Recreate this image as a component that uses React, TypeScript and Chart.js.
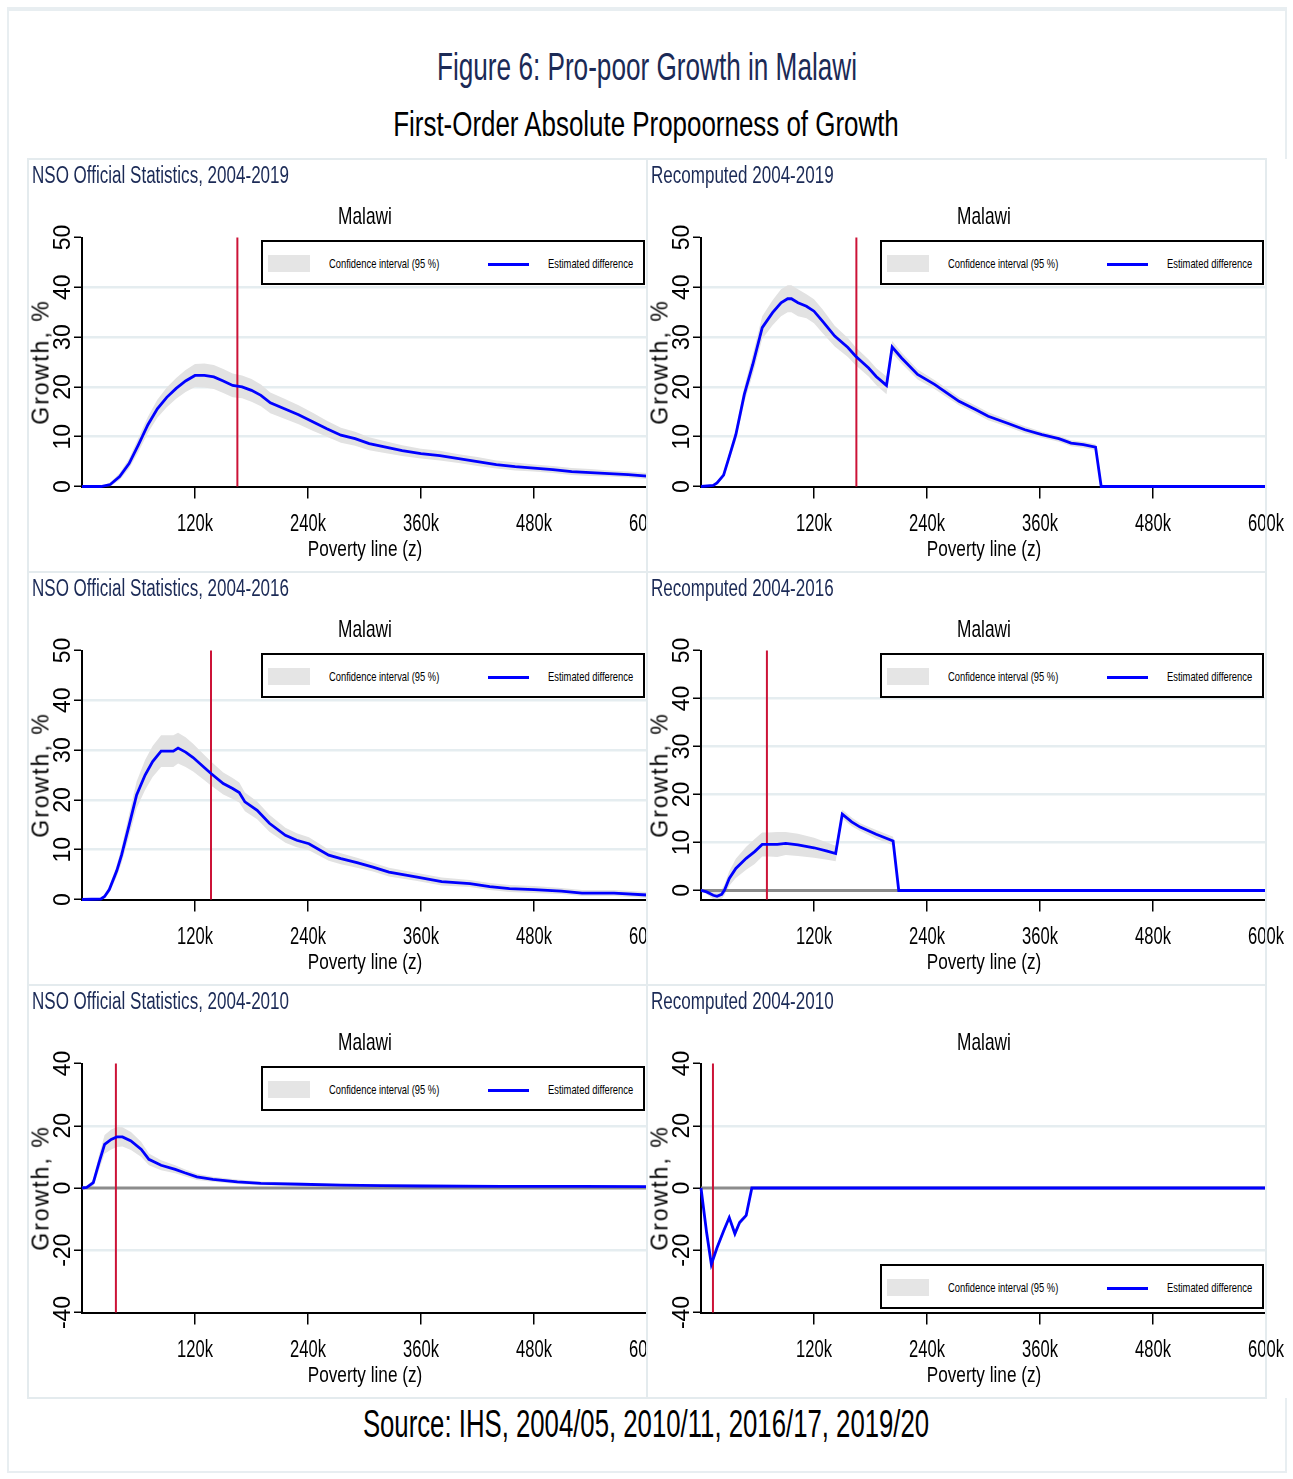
import React, { useEffect, useRef } from 'react';
import { Chart, registerables } from 'chart.js';

Chart.register(...registerables);

// ---- Data: poverty line z (thousand kwacha), growth estimate and 95% CI bounds (%) ----

// NSO Official Statistics, 2004-2019
const NSO19_Z = [0, 20, 30, 40, 50, 60, 70, 80, 90, 100, 110, 120, 130, 140, 150, 160, 170, 180, 190, 200, 215, 230, 245, 260, 275, 290, 305, 320, 340, 360, 380, 400, 420, 440, 460, 480, 500, 520, 540, 560, 580, 600];
const NSO19_EST = [0, 0, 0.4, 2.0, 4.6, 8.4, 12.4, 15.6, 17.9, 19.7, 21.2, 22.3, 22.3, 22.0, 21.2, 20.3, 20.0, 19.3, 18.3, 16.8, 15.6, 14.4, 13.0, 11.6, 10.3, 9.6, 8.6, 8.0, 7.2, 6.6, 6.2, 5.6, 5.0, 4.4, 4.0, 3.7, 3.4, 3.0, 2.8, 2.6, 2.4, 2.1];
const NSO19_HI = [0, 0.1, 0.8, 2.7, 5.6, 9.8, 14.0, 17.4, 19.9, 21.8, 23.4, 24.6, 24.7, 24.4, 23.6, 22.7, 22.3, 21.6, 20.5, 18.9, 17.6, 16.3, 14.8, 13.2, 11.8, 11.0, 9.9, 9.2, 8.3, 7.6, 7.2, 6.5, 5.9, 5.2, 4.8, 4.4, 4.1, 3.7, 3.5, 3.2, 3.0, 2.7];
const NSO19_LO = [0, -0.1, 0.0, 1.3, 3.6, 7.0, 10.8, 13.8, 15.9, 17.6, 19.0, 20.0, 19.9, 19.6, 18.8, 17.9, 17.7, 17.0, 16.1, 14.7, 13.6, 12.5, 11.2, 10.0, 8.8, 8.2, 7.3, 6.8, 6.1, 5.6, 5.2, 4.7, 4.1, 3.6, 3.2, 3.0, 2.7, 2.3, 2.1, 2.0, 1.8, 1.5];

// Recomputed 2004-2019
const REC19_Z = [0, 13, 17, 24, 30, 37, 46, 55, 65, 76, 85, 92, 96, 103, 112, 120, 129, 142, 156, 164, 178, 186, 197, 203, 213, 230, 248, 261, 274, 292, 305, 327, 344, 362, 380, 393, 406, 419, 425, 480, 540, 600];
const REC19_EST = [0, 0.2, 0.7, 2.3, 6.0, 10.4, 18.5, 24.5, 31.9, 34.9, 36.9, 37.7, 37.7, 36.9, 36.2, 35.2, 33.2, 30.2, 27.9, 26.2, 23.8, 22.1, 20.3, 28.0, 25.8, 22.5, 20.5, 18.8, 17.1, 15.4, 14.1, 12.6, 11.4, 10.4, 9.6, 8.7, 8.4, 7.9, 0, 0, 0, 0];
const REC19_HI = [0, 0.3, 1.0, 2.7, 6.8, 11.6, 20.1, 26.5, 34.2, 37.4, 39.6, 40.4, 40.4, 39.6, 38.6, 37.6, 35.6, 32.3, 29.8, 28.0, 25.5, 23.8, 22.1, 29.2, 26.9, 23.5, 21.4, 19.7, 17.9, 16.2, 14.9, 13.3, 12.1, 11.0, 10.2, 9.3, 9.0, 8.5, 0, 0, 0, 0];
const REC19_LO = [0, 0.1, 0.4, 1.9, 5.2, 9.2, 16.9, 22.5, 29.6, 32.4, 34.2, 35.0, 35.0, 34.2, 33.8, 32.8, 30.8, 28.1, 26.0, 24.4, 22.1, 20.4, 18.5, 26.8, 24.7, 21.5, 19.6, 17.9, 16.3, 14.6, 13.3, 11.9, 10.7, 9.8, 9.0, 8.1, 7.8, 7.3, 0, 0, 0, 0];

// NSO Official Statistics, 2004-2016
const NSO16_Z = [0, 20, 24, 29, 37, 42, 50, 58, 67, 75, 84, 92, 97, 102, 110, 118, 131, 137, 150, 160, 167, 173, 186, 199, 216, 228, 241, 252, 262, 275, 292, 309, 326, 356, 382, 412, 433, 454, 480, 509, 531, 565, 600];
const NSO16_EST = [0, 0.1, 0.6, 2.0, 5.8, 8.9, 14.9, 21.0, 25.0, 27.7, 29.8, 29.8, 29.8, 30.4, 29.6, 28.5, 26.3, 25.3, 23.3, 22.3, 21.5, 19.6, 17.9, 15.3, 12.9, 11.9, 11.2, 10.0, 8.9, 8.2, 7.4, 6.5, 5.5, 4.5, 3.6, 3.2, 2.6, 2.2, 2.0, 1.7, 1.3, 1.3, 0.9];
const NSO16_HI = [0, 0.2, 0.9, 2.6, 7.0, 10.5, 17.1, 23.7, 28.0, 30.8, 33.0, 33.0, 33.0, 33.5, 32.6, 31.3, 28.8, 27.7, 25.5, 24.4, 23.5, 21.5, 19.7, 17.0, 14.4, 13.3, 12.5, 11.2, 10.0, 9.3, 8.4, 7.4, 6.4, 5.3, 4.4, 3.9, 3.3, 2.9, 2.7, 2.3, 1.9, 1.9, 1.5];
const NSO16_LO = [0, 0.0, 0.3, 1.4, 4.6, 7.3, 12.7, 18.3, 22.0, 24.6, 26.6, 26.6, 26.6, 27.3, 26.6, 25.7, 23.8, 22.9, 21.1, 20.2, 19.5, 17.7, 16.1, 13.6, 11.4, 10.5, 9.9, 8.8, 7.8, 7.1, 6.4, 5.6, 4.6, 3.7, 2.8, 2.5, 1.9, 1.5, 1.3, 1.1, 0.7, 0.7, 0.3];

// Recomputed 2004-2016
const REC16_Z = [0, 6, 13, 17, 22, 25, 30, 37, 48, 57, 65, 72, 81, 90, 103, 120, 134, 143, 150, 160, 169, 186, 204, 210, 300, 400, 500, 600];
const REC16_EST = [0, -0.3, -1.0, -1.2, -0.8, 0.1, 2.5, 4.6, 6.7, 8.1, 9.6, 9.6, 9.6, 9.8, 9.5, 8.9, 8.2, 7.7, 15.9, 14.3, 13.2, 11.7, 10.3, 0, 0, 0, 0, 0];
const REC16_HI = [0, 0.3, -0.2, -0.3, 0.2, 1.3, 4.0, 6.6, 9.1, 10.7, 12.1, 12.1, 12.2, 12.2, 11.8, 11.0, 10.0, 9.3, 16.8, 15.2, 14.0, 12.6, 11.2, 0, 0, 0, 0, 0];
const REC16_LO = [0, -0.8, -1.8, -1.9, -1.7, -1.0, 1.0, 2.6, 4.3, 5.5, 7.1, 7.1, 7.0, 7.4, 7.2, 6.8, 6.4, 6.1, 15.0, 13.4, 12.4, 10.8, 9.4, 0, 0, 0, 0, 0];

// NSO Official Statistics, 2004-2010
const NSO10_Z = [0, 5, 12, 18, 24, 31, 37, 43, 52, 63, 71, 84, 99, 109, 122, 139, 165, 190, 233, 275, 318, 360, 446, 531, 600];
const NSO10_EST = [0, 0.2, 1.7, 8.1, 14.0, 15.6, 16.4, 16.4, 15.1, 12.4, 9.2, 7.3, 6.0, 4.9, 3.6, 2.8, 2.0, 1.5, 1.2, 0.9, 0.75, 0.65, 0.55, 0.5, 0.45];
const NSO10_HI = [0, 0.5, 2.8, 10.5, 17.0, 18.8, 19.6, 19.5, 18.0, 14.8, 11.1, 8.9, 7.3, 6.0, 4.6, 3.6, 2.7, 2.1, 1.7, 1.4, 1.2, 1.1, 0.9, 0.9, 0.8];
const NSO10_LO = [0, -0.1, 0.6, 5.7, 11.0, 12.4, 13.2, 13.3, 12.2, 10.0, 7.3, 5.7, 4.7, 3.8, 2.6, 2.0, 1.3, 0.9, 0.7, 0.4, 0.3, 0.2, 0.2, 0.1, 0.1];

// Recomputed 2004-2010
const REC10_Z = [0, 6, 11, 17, 24, 30, 36, 41, 48, 54, 100, 200, 300, 400, 500, 600];
const REC10_EST = [0, -14.4, -24.5, -19.2, -13.8, -9.5, -14.7, -11.1, -8.8, 0, 0, 0, 0, 0, 0, 0];
const REC10_HI = [0, -13.6, -23.2, -18.2, -12.8, -8.5, -13.6, -10.2, -8.0, 0, 0, 0, 0, 0, 0, 0];
const REC10_LO = [0, -15.2, -25.8, -20.2, -14.8, -10.5, -15.8, -12.0, -9.6, 0, 0, 0, 0, 0, 0, 0];

// Axes
const X_TICKS = [120, 240, 360, 480, 600];
const X_TICK_LABELS = ['120k', '240k', '360k', '480k', '600k'];
const Y_TICKS_POS = [0, 10, 20, 30, 40, 50];
const Y_TICKS_SYM = [-40, -20, 0, 20, 40];

// Poverty line marked in each panel (thousand kwacha)
const POVERTY_LINES = [165, 165, 137, 70, 36, 12.7];

const PANEL_TITLES = [
  'NSO Official Statistics, 2004-2019',
  'Recomputed 2004-2019',
  'NSO Official Statistics, 2004-2016',
  'Recomputed 2004-2016',
  'NSO Official Statistics, 2004-2010',
  'Recomputed 2004-2010',
];

// ---- Styling ----
const FONT = '"Liberation Sans", Arial, Helvetica, sans-serif';
const NAVY = '#1b2a56';
const FRAME = '#e4ebee';
const GRID_COLOR = '#e5edf0';
const CI_COLOR = '#e2e2e2';
const LINE_BLUE = '#0000ff';
const RED = '#cc1337';
const ZERO_GRAY = '#8c8c8c';

const PANEL_W = 619;
const CANVAS_W = 659;
const PANEL_H = 413;
const PLOT_LEFT = 54;
const PLOT_TOP = 78.5;
const PLOT_BOTTOM = 327.5;
const PLOT_CX = (PLOT_LEFT + PANEL_W) / 2;

type PanelSpec = {
  title: string;
  z: number[];
  est: number[];
  hi: number[];
  lo: number[];
  yMin: number;
  yMax: number;
  yTicks: number[];
  zeroLine: boolean;
  povertyLine: number;
  legendTop: number;
  left: number;
  top: number;
};

const COL_X = [28, 647];
const ROW_Y = [159, 572, 985];

const PANELS: PanelSpec[] = [
  { title: PANEL_TITLES[0], z: NSO19_Z, est: NSO19_EST, hi: NSO19_HI, lo: NSO19_LO, yMin: 0, yMax: 50, yTicks: Y_TICKS_POS, zeroLine: false, povertyLine: POVERTY_LINES[0], legendTop: 81, left: COL_X[0], top: ROW_Y[0] },
  { title: PANEL_TITLES[1], z: REC19_Z, est: REC19_EST, hi: REC19_HI, lo: REC19_LO, yMin: 0, yMax: 50, yTicks: Y_TICKS_POS, zeroLine: false, povertyLine: POVERTY_LINES[1], legendTop: 81, left: COL_X[1], top: ROW_Y[0] },
  { title: PANEL_TITLES[2], z: NSO16_Z, est: NSO16_EST, hi: NSO16_HI, lo: NSO16_LO, yMin: 0, yMax: 50, yTicks: Y_TICKS_POS, zeroLine: false, povertyLine: POVERTY_LINES[2], legendTop: 81, left: COL_X[0], top: ROW_Y[1] },
  { title: PANEL_TITLES[3], z: REC16_Z, est: REC16_EST, hi: REC16_HI, lo: REC16_LO, yMin: -1.88, yMax: 50, yTicks: Y_TICKS_POS, zeroLine: true, povertyLine: POVERTY_LINES[3], legendTop: 81, left: COL_X[1], top: ROW_Y[1] },
  { title: PANEL_TITLES[4], z: NSO10_Z, est: NSO10_EST, hi: NSO10_HI, lo: NSO10_LO, yMin: -40, yMax: 40, yTicks: Y_TICKS_SYM, zeroLine: true, povertyLine: POVERTY_LINES[4], legendTop: 81, left: COL_X[0], top: ROW_Y[2] },
  { title: PANEL_TITLES[5], z: REC10_Z, est: REC10_EST, hi: REC10_HI, lo: REC10_LO, yMin: -40, yMax: 40, yTicks: Y_TICKS_SYM, zeroLine: true, povertyLine: POVERTY_LINES[5], legendTop: 279, left: COL_X[1], top: ROW_Y[2] },
];

// Reference lines: grey y=0 line and red poverty line, drawn under the estimate
const refLinesPlugin = {
  id: 'refLines',
  beforeDatasetsDraw(chart: any, _args: any, opts: any) {
    const { ctx, chartArea, scales } = chart;
    ctx.save();
    if (opts.zeroLine) {
      const y0 = scales.y.getPixelForValue(0);
      ctx.strokeStyle = ZERO_GRAY;
      ctx.lineWidth = 3;
      ctx.beginPath();
      ctx.moveTo(chartArea.left, y0);
      ctx.lineTo(chartArea.right, y0);
      ctx.stroke();
    }
    const xp = scales.x.getPixelForValue(opts.povertyLine);
    ctx.strokeStyle = RED;
    ctx.lineWidth = 2;
    ctx.beginPath();
    ctx.moveTo(xp, chartArea.top);
    ctx.lineTo(xp, chartArea.bottom);
    ctx.stroke();
    ctx.restore();
  },
};

// Condensed x tick labels and vertical y tick labels
const tickLabelsPlugin = {
  id: 'tickLabels',
  afterDraw(chart: any) {
    const { ctx, scales } = chart;
    ctx.save();
    ctx.fillStyle = '#000';
    ctx.textAlign = 'center';
    ctx.textBaseline = 'alphabetic';
    ctx.font = `23px ${FONT}`;
    scales.x.ticks.forEach((t: any) => {
      const px = scales.x.getPixelForValue(t.value);
      ctx.save();
      ctx.translate(px, 372);
      ctx.scale(0.72, 1);
      ctx.fillText(t.label ?? String(t.value), 0, 0);
      ctx.restore();
    });
    ctx.font = `23px ${FONT}`;
    scales.y.ticks.forEach((t: any) => {
      const py = scales.y.getPixelForValue(t.value);
      ctx.save();
      ctx.translate(42, py);
      ctx.rotate(-Math.PI / 2);
      ctx.fillText(t.label ?? String(t.value), 0, 0);
      ctx.restore();
    });
    ctx.restore();
  },
};

function buildConfig(p: PanelSpec): any {
  const innerGrid = p.yTicks.filter((v) => v !== p.yMin && v !== p.yMax && !(p.zeroLine && v === 0));
  const pts = (ys: number[]) => p.z.map((x, i) => ({ x, y: ys[i] }));
  return {
    type: 'line',
    data: {
      datasets: [
        { label: 'Confidence interval (95 %)', data: pts(p.hi), borderWidth: 0, borderColor: 'rgba(0,0,0,0)', backgroundColor: CI_COLOR, fill: '+1', pointRadius: 0, tension: 0 },
        { label: 'ci-low', data: pts(p.lo), borderWidth: 0, borderColor: 'rgba(0,0,0,0)', backgroundColor: CI_COLOR, fill: false, pointRadius: 0, tension: 0 },
        { label: 'Estimated difference', data: pts(p.est), borderColor: LINE_BLUE, borderWidth: 2.8, fill: false, pointRadius: 0, tension: 0, clip: false },
      ],
    },
    options: {
      responsive: false,
      maintainAspectRatio: false,
      animation: false,
      events: [],
      layout: { padding: { left: 0, top: PLOT_TOP, right: CANVAS_W - PANEL_W, bottom: 0 } },
      plugins: {
        legend: { display: false },
        tooltip: { enabled: false },
        filler: { drawTime: 'beforeDatasetsDraw' },
        refLines: { zeroLine: p.zeroLine, povertyLine: p.povertyLine },
      },
      scales: {
        x: {
          type: 'linear',
          min: 0,
          max: 600,
          afterBuildTicks: (s: any) => {
            s.ticks = X_TICKS.map((v) => ({ value: v }));
          },
          afterFit: (s: any) => {
            s.height = PANEL_H - PLOT_BOTTOM;
          },
          ticks: { display: false, autoSkip: false, callback: (v: number) => X_TICK_LABELS[X_TICKS.indexOf(v)] },
          grid: { drawOnChartArea: false, drawTicks: true, tickLength: 12, tickColor: '#000', tickWidth: 1.5, color: '#000', lineWidth: 1.5 },
          border: { display: true, color: '#000', width: 2 },
        },
        y: {
          type: 'linear',
          min: p.yMin,
          max: p.yMax,
          afterBuildTicks: (s: any) => {
            s.ticks = p.yTicks.map((v) => ({ value: v }));
          },
          afterFit: (s: any) => {
            s.width = PLOT_LEFT;
          },
          ticks: { display: false, autoSkip: false, callback: (v: number) => String(v) },
          grid: {
            drawOnChartArea: true,
            drawTicks: true,
            tickLength: 8,
            tickColor: '#000',
            tickWidth: 1.5,
            lineWidth: 2.5,
            color: (c: any) => (c.tick && innerGrid.includes(c.tick.value) ? GRID_COLOR : 'rgba(0,0,0,0)'),
          },
          border: { display: true, color: '#000', width: 2 },
        },
      },
    },
    plugins: [refLinesPlugin, tickLabelsPlugin],
  };
}

type LabelProps = {
  x: number;
  y: number;
  size: number;
  sx?: number;
  color?: string;
  align?: 'left' | 'center';
  text: string;
};

// Text positioned by its baseline, horizontally condensed
function Label({ x, y, size, sx = 1, color = '#000', align = 'left', text }: LabelProps) {
  const style: React.CSSProperties = {
    position: 'absolute',
    left: x,
    top: y - 0.8465 * size,
    fontFamily: FONT,
    fontSize: size,
    lineHeight: `${size}px`,
    color,
    whiteSpace: 'nowrap',
    transformOrigin: align === 'center' ? 'center center' : 'left center',
    transform: align === 'center' ? `translateX(-50%) scaleX(${sx})` : `scaleX(${sx})`,
  };
  return <div style={style}>{text}</div>;
}

function Legend({ top }: { top: number }) {
  return (
    <div
      style={{
        position: 'absolute',
        left: 233,
        top,
        width: 380,
        height: 41,
        border: '2px solid #000',
        background: '#fff',
      }}
    >
      <div style={{ position: 'absolute', left: 5, top: 13, width: 42, height: 17, background: '#e5e5e5' }} />
      <Label x={66} y={26.5} size={13} sx={0.72} text="Confidence interval (95 %)" />
      <div style={{ position: 'absolute', left: 225, top: 20.5, width: 41, height: 3, background: LINE_BLUE }} />
      <Label x={285} y={26.5} size={13} sx={0.72} text="Estimated difference" />
    </div>
  );
}

function Panel({ spec }: { spec: PanelSpec }) {
  const ref = useRef<HTMLCanvasElement>(null);
  useEffect(() => {
    if (!ref.current) return;
    const chart = new Chart(ref.current, buildConfig(spec));
    return () => chart.destroy();
  }, [spec]);
  return (
    <div
      style={{
        position: 'absolute',
        left: spec.left,
        top: spec.top,
        width: CANVAS_W,
        height: PANEL_H,
        background: '#fff',
      }}
    >
      <canvas ref={ref} width={CANVAS_W} height={PANEL_H} style={{ position: 'absolute', left: 0, top: 0 }} />
      <Label x={4} y={24.3} size={23} sx={0.74} color={NAVY} text={spec.title} />
      <Label x={PLOT_CX} y={65} size={24} sx={0.72} align="center" text="Malawi" />
      <Label x={PLOT_CX} y={397.5} size={22} sx={0.78} align="center" text="Poverty line (z)" />
      <div
        style={{
          position: 'absolute',
          left: 12.5,
          top: (PLOT_TOP + PLOT_BOTTOM) / 2,
          fontFamily: FONT,
          fontSize: 23,
          lineHeight: '23px',
          letterSpacing: 2,
          whiteSpace: 'nowrap',
          transform: 'translate(-50%, -50%) rotate(-90deg)',
        }}
      >
        Growth, %
      </div>
      <Legend top={spec.legendTop} />
    </div>
  );
}

function Line({ x, y, w, h, color = FRAME }: { x: number; y: number; w: number; h: number; color?: string }) {
  return <div style={{ position: 'absolute', left: x, top: y, width: w, height: h, background: color }} />;
}

export default function App() {
  const gridL = COL_X[0];
  const gridR = COL_X[1] + PANEL_W;
  const gridT = ROW_Y[0];
  const gridB = ROW_Y[2] + PANEL_H;
  return (
    <div
      style={{
        position: 'absolute',
        left: 0,
        top: 0,
        width: 1293,
        height: 1479,
        overflow: 'hidden',
        background: '#fff',
        fontFamily: FONT,
      }}
    >
      {/* outer frame */}
      <Line x={7} y={7} w={1280} h={4} color="#e8eef1" />
      <Line x={7} y={7} w={2} h={1466} color="#e8eef1" />
      <Line x={1285} y={7} w={2} h={1466} color="#e8eef1" />
      <Line x={7} y={1471} w={1280} h={2} color="#e8eef1" />

      <Label x={647} y={80.5} size={39.5} sx={0.662} align="center" color={NAVY} text="Figure 6: Pro-poor Growth in Malawi" />
      <Label x={646} y={137} size={35.5} sx={0.73} align="center" text="First-Order Absolute Propoorness of Growth" />

      {PANELS.map((p, i) => (
        <Panel key={i} spec={p} />
      ))}

      {/* panel grid */}
      <Line x={gridL - 1} y={gridT - 1} w={gridR - gridL + 2} h={2} />
      <Line x={gridL - 1} y={ROW_Y[1] - 1} w={gridR - gridL + 2} h={2} />
      <Line x={gridL - 1} y={ROW_Y[2] - 1} w={gridR - gridL + 2} h={2} />
      <Line x={gridL - 1} y={gridB - 1} w={gridR - gridL + 2} h={2} />
      <Line x={gridL - 1} y={gridT - 1} w={2} h={gridB - gridT + 2} />
      <Line x={COL_X[1] - 1} y={gridT - 1} w={2} h={gridB - gridT + 2} />
      <Line x={gridR - 1} y={gridT - 1} w={2} h={gridB - gridT + 2} />

      <Label x={646} y={1437.5} size={39} sx={0.66} align="center" text="Source: IHS, 2004/05, 2010/11, 2016/17, 2019/20" />
    </div>
  );
}
